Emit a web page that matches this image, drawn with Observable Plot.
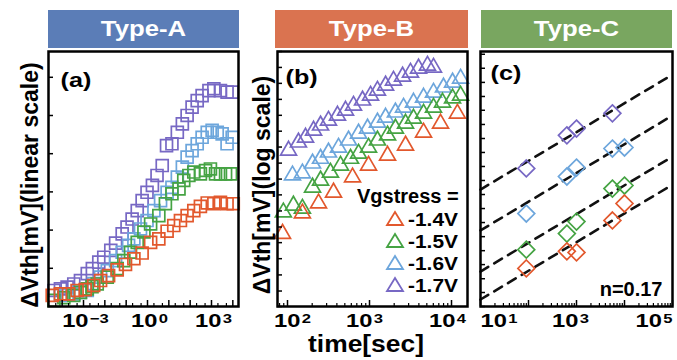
<!DOCTYPE html>
<html>
<head>
<meta charset="utf-8">
<script src="https://cdn.jsdelivr.net/npm/d3@7"></script>
<script src="https://cdn.jsdelivr.net/npm/@observablehq/plot@0.6"></script>
<style>
html,body{margin:0;padding:0;background:#fff;}
#wrap{position:relative;width:677px;height:360px;overflow:hidden;background:#fff;}
#wrap svg{position:absolute;left:0;top:0;}
</style>
</head>
<body>
<div id="wrap"></div>
<script>
const FONT = '"Liberation Sans", Arial, Helvetica, sans-serif';

// ---------- shared categories ----------
const seriesNames = ["-1.4V", "-1.5V", "-1.6V", "-1.7V"];
const seriesColors = ["#e2582d", "#45a343", "#6da6dc", "#7768c4"];
const panelTitles = ["Type-A", "Type-B", "Type-C"];
const panelTitleColors = ["#5b7db7", "#da7350", "#79a660"];
const panelTags = ["(a)", "(b)", "(c)"];
const yTitles = ["ΔVth[mV](linear scale)", "ΔVth[mV](log scale)"];
const xTitle = "time[sec]";
const legendTitle = "Vgstress =";
const fitNote = "n=0.17";

// ---------- Panel A (linear y, log time) ----------
const aT_14 = [3.4e-5, 8.3e-5, 2e-4, 5e-4, 1.2e-3, 3e-3, 6.3e-3, 0.015, 0.038, 0.093, 0.23, 0.56, 1.4, 3.4, 8.3, 17, 35, 72, 148, 302, 631, 1290, 2630, 5370, 10500];
const aV_14 = [0.29, 0.33, 0.33, 0.42, 0.44, 0.55, 0.68, 0.81, 0.96, 1.10, 1.25, 1.40, 1.68, 1.77, 1.97, 2.12, 2.25, 2.38, 2.51, 2.62, 2.71, 2.69, 2.73, 2.69, 2.69];
const aT_15 = [4.1e-5, 1.2e-4, 3.5e-4, 7.2e-4, 1.5e-3, 2.5e-3, 4.4e-3, 0.013, 0.038, 0.078, 0.16, 0.33, 0.68, 1.4, 3.4, 6.9, 14, 30, 50, 87, 148, 302, 525, 891, 1550, 2630, 4570, 7760];
const aV_15 = [0.16, 0.23, 0.29, 0.37, 0.46, 0.52, 0.59, 0.77, 0.99, 1.2, 1.42, 1.68, 1.95, 2.16, 2.38, 2.69, 2.95, 3.08, 3.3, 3.43, 3.52, 3.47, 3.56, 3.6, 3.47, 3.47, 3.47, 3.47];
const aT_16 = [8.3e-5, 1.7e-4, 3.5e-4, 7.2e-4, 1.5e-3, 3e-3, 6.3e-3, 0.013, 0.032, 0.065, 0.13, 0.23, 0.47, 0.95, 2.0, 4.1, 8.3, 14, 25, 43, 72, 123, 214, 363, 631, 1070, 1860, 3160, 5370, 9330];
const aV_16 = [0.29, 0.31, 0.33, 0.37, 0.42, 0.6, 0.77, 0.94, 1.2, 1.42, 1.6, 1.77, 2.03, 2.25, 2.51, 2.77, 2.99, 3.12, 3.39, 3.65, 3.91, 4.08, 4.26, 4.43, 4.56, 4.61, 4.56, 4.52, 4.26, 4.43];
const aT_17 = [4.1e-5, 8.3e-5, 1.7e-4, 3.5e-4, 7.2e-4, 1.5e-3, 2.6e-3, 5.2e-3, 8.9e-3, 0.019, 0.032, 0.065, 0.11, 0.19, 0.33, 0.56, 0.95, 1.7, 2.8, 4.9, 7.8, 14, 25, 43, 72, 123, 214, 363, 759, 1290, 2630, 5370, 9330];
const aV_17 = [0.42, 0.46, 0.51, 0.59, 0.68, 0.86, 0.99, 1.16, 1.29, 1.47, 1.66, 1.90, 2.08, 2.29, 2.51, 2.77, 2.99, 3.17, 3.43, 3.69, 4.21, 4.26, 4.56, 4.78, 5.0, 5.22, 5.39, 5.52, 5.65, 5.70, 5.65, 5.61, 5.61];
const aYTicks = [1, 2, 3, 4, 5, 6];
const aXTicks = [1e-3, 1, 1e3];
const aXLabels = ["10^−3", "10^0", "10^3"];

// ---------- Panel B (log y, log time) ----------
const bT_14 = [87, 152, 239, 364, 621, 973, 1660, 2750, 4560, 7350, 11800];
const bV_14 = [19.3, 23.2, 25.4, 28.0, 32.1, 35.7, 39.1, 42.8, 48.1, 52.2, 57.1];
const bT_15 = [89, 118, 152, 202, 253, 334, 443, 587, 735, 973, 1250, 1660, 2070, 2750, 3440, 4560, 6030, 7770, 10300, 12900];
const bV_15 = [23.4, 24.9, 24.2, 29.3, 31.2, 33.5, 35.7, 38.0, 39.8, 42.0, 44.8, 46.9, 49.9, 52.2, 54.6, 57.1, 60.3, 63.1, 65.5, 67.2];
const bT_16 = [115, 152, 202, 253, 316, 419, 555, 735, 946, 1250, 1570, 2070, 2600, 3440, 4560, 6030, 7980, 10300, 12900];
const bV_16 = [32.7, 33.3, 36.4, 38.0, 40.2, 42.0, 44.8, 47.7, 49.9, 52.7, 55.1, 57.7, 60.3, 63.1, 66.0, 69.0, 72.3, 75.6, 78.3];
const bT_17 = [103, 136, 166, 208, 253, 316, 407, 510, 638, 822, 1030, 1250, 1570, 1960, 2530, 3160, 3960, 5090, 6030];
const bV_17 = [40.9, 44.0, 46.0, 49.0, 51.3, 53.6, 56.1, 58.7, 61.4, 64.3, 67.2, 70.3, 73.6, 76.9, 79.8, 82.7, 85.8, 88.1, 86.5];
const bYTicks = [10, 11.5, 13.3, 15.4, 17.8, 20.5, 23.7, 27.4, 31.6, 36.5, 42.2, 48.7, 56.2, 64.9, 75.0, 86.6, 100];
const bXTicks = [1e2, 1e3, 1e4];
const bXLabels = ["10^2", "10^3", "10^4"];

// ---------- Panel C (log-log, power-law fits) ----------
const cT = [90, 630, 1000, 5600, 10000];
const cV_14 = [1.68, 2.12, 2.09, 3.23, 4.07];
const cV_15 = [2.17, 2.70, 3.18, 4.99, 5.20];
const cV_16 = [3.55, 5.88, 6.64, 8.61, 8.73];
const cV_17 = [6.56, 10.3, 11.3, 13.9];
const cFitT = [10, 1e5];
const cFitStart = [1.10, 1.61, 2.82, 4.92];
const cFitEnd = [5.26, 7.71, 13.5, 23.6];
const cYTicks = [1, 1.21, 1.46, 1.77, 2.14, 2.59, 3.14, 3.80, 4.60, 5.57, 6.74, 8.16, 9.87, 11.95, 14.5, 17.5, 21.2, 25.7, 31.1];
const cXTicks = [10, 1e3, 1e5];
const cXLabels = ["10^1", "10^3", "10^5"];

// ---------- helpers ----------
function decadeMinor(lo, hi, mults) {
  const out = [];
  for (let e = lo; e <= hi; e++) for (const m of mults) out.push(m * 10 ** e);
  return out;
}
function pts(ts, vs) { return ts.map((t, i) => ({t, v: vs[i]})); }
function dots(ts, vs, k, symbol) {
  return Plot.dot(pts(ts, vs), {x: "t", y: "v", symbol, r: 7.6, stroke: seriesColors[k], strokeWidth: 1.7, fill: "none"});
}
function baseStyle() {
  return {background: "transparent", fontFamily: FONT, fontWeight: "bold", color: "#000", overflow: "visible"};
}
function tickMarks(xMajor, xMinor, yTicks) {
  return [
    Plot.axisY(yTicks, {anchor: "left", tickSize: -5, strokeWidth: 1.5, tickFormat: () => "", label: null}),
    Plot.axisX(xMinor, {anchor: "bottom", tickSize: -3, strokeWidth: 1.2, tickFormat: () => "", label: null}),
    Plot.axisX(xMajor, {anchor: "bottom", tickSize: -6, strokeWidth: 1.5, tickFormat: () => "", label: null})
  ];
}
function labelAxis(ticks, labels, idx, opts) {
  return Plot.axisX([ticks[idx]], {anchor: "bottom", tickSize: 0, tickPadding: 8, fontSize: 18,
    tickFormat: () => labels[idx], label: null, ...opts});
}
function tag(txt, dx, dy, size) {
  return Plot.text([txt], {frameAnchor: "top-left", text: d => d, dx, dy, lineAnchor: "bottom", textAnchor: "start", fontSize: size, fontWeight: "bold", fill: "#000"});
}
function supify(svg) {
  const ns = "http://www.w3.org/2000/svg";
  svg.querySelectorAll("text").forEach(t => {
    const s = t.textContent;
    const i = s.indexOf("^");
    if (i < 0) return;
    t.textContent = "";
    const a = document.createElementNS(ns, "tspan"); a.textContent = s.slice(0, i);
    const b = document.createElementNS(ns, "tspan"); b.textContent = s.slice(i + 1);
    b.setAttribute("dy", "-0.36em"); b.setAttribute("font-size", "0.7em"); b.setAttribute("dx", "1");
    t.append(a, b);
  });
}
// widen glyphs horizontally (the reference's lettering is wide), keeping each text's anchor point
function stretch(t, s) {
  const bb = t.getBBox();
  if (!bb.width) return;
  const anchor = getComputedStyle(t).textAnchor;
  const ax = anchor === "middle" ? bb.x + bb.width / 2 : anchor === "end" ? bb.x + bb.width : bb.x;
  t.setAttribute("transform", (t.getAttribute("transform") || "") + ` translate(${ax},0) scale(${s},1) translate(${-ax},0)`);
}

const wrap = document.getElementById("wrap");

// ---------- Panel A ----------
const plotA = Plot.plot({
  width: 677, height: 360, marginLeft: 48, marginRight: 439, marginTop: 51, marginBottom: 54,
  style: baseStyle(),
  x: {type: "log", domain: [10 ** -4.641, 10 ** 4.266], label: null},
  y: {domain: [0, 6.675], label: null},
  marks: [
    dots(aT_17, aV_17, 3, "square2"),
    dots(aT_16, aV_16, 2, "square2"),
    dots(aT_15, aV_15, 1, "square2"),
    dots(aT_14, aV_14, 0, "square2"),
    ...tickMarks(decadeMinor(-4, 4, [1]), decadeMinor(-5, 4, [2, 5]).filter(d => d > 10 ** -4.641 && d < 10 ** 4.266), aYTicks),
    labelAxis(aXTicks, aXLabels, 0, {dx: 2}),
    labelAxis(aXTicks, aXLabels, 1, {dx: 2}),
    labelAxis(aXTicks, aXLabels, 2, {dx: 2}),
    Plot.frame({stroke: "#000", strokeWidth: 2.5}),
    tag(panelTags[0], 12, 35, 21)
  ]
});

// ---------- Panel B ----------
const bDom = [10 ** 1.878, 10 ** 4.195];
const plotB = Plot.plot({
  width: 677, height: 360, marginLeft: 277, marginRight: 210, marginTop: 51, marginBottom: 54,
  style: baseStyle(),
  x: {type: "log", domain: bDom, label: null},
  y: {type: "log", domain: [10, 100], label: null},
  marks: [
    dots(bT_17, bV_17, 3, "triangle2"),
    dots(bT_16, bV_16, 2, "triangle2"),
    dots(bT_15, bV_15, 1, "triangle2"),
    dots(bT_14, bV_14, 0, "triangle2"),
    ...tickMarks(bXTicks, decadeMinor(1, 4, [2, 3, 4, 5, 6, 7, 8, 9]).filter(d => d > bDom[0] && d < bDom[1]), bYTicks),
    labelAxis(bXTicks, bXLabels, 0, {dx: 5}),
    labelAxis(bXTicks, bXLabels, 1, {dx: -5}),
    labelAxis(bXTicks, bXLabels, 2, {dx: -4}),
    Plot.frame({stroke: "#000", strokeWidth: 2.5}),
    tag(panelTags[1], 8, 32, 21)
  ]
});

// ---------- Panel C ----------
const fitLines = cFitStart.flatMap((v0, k) => [
  {k, t: cFitT[0], v: v0},
  {k, t: cFitT[1], v: cFitEnd[k]}
]);
const plotC = Plot.plot({
  width: 677, height: 360, marginLeft: 480, marginRight: 5, marginTop: 51, marginBottom: 54,
  style: baseStyle(),
  x: {type: "log", domain: [10, 1e5], label: null},
  y: {type: "log", domain: [1, 32.3], label: null},
  marks: [
    Plot.line(fitLines, {x: "t", y: "v", z: "k", stroke: "#111", strokeWidth: 2.6, strokeDasharray: "9,7"}),
    dots(cT.slice(0, cV_17.length), cV_17, 3, "diamond2"),
    dots(cT, cV_16, 2, "diamond2"),
    dots(cT, cV_15, 1, "diamond2"),
    dots(cT, cV_14, 0, "diamond2"),
    ...tickMarks(decadeMinor(1, 5, [1]), decadeMinor(1, 4, [2, 3, 4, 5, 6, 7, 8, 9]), cYTicks),
    labelAxis(cXTicks, cXLabels, 0, {dx: 0, textAnchor: "start"}),
    labelAxis(cXTicks, cXLabels, 1, {dx: -6}),
    labelAxis(cXTicks, cXLabels, 2, {dx: 0, textAnchor: "end"}),
    Plot.frame({stroke: "#000", strokeWidth: 2.5}),
    tag(panelTags[2], 10, 28, 21),
    Plot.text([fitNote], {frameAnchor: "bottom-right", text: d => d, dx: -10, dy: -11, lineAnchor: "bottom", textAnchor: "end", fontSize: 20, fontWeight: "bold", fill: "#000"})
  ]
});

for (const p of [plotA, plotB, plotC]) {
  supify(p);
  wrap.appendChild(p);
  p.querySelectorAll("text").forEach(t => {
    const s = t.textContent;
    if (!s || s === fitNote) return;
    stretch(t, panelTags.includes(s) ? 1.2 : 1.32);
  });
}

// ---------- overlay: headers, axis titles, legend ----------
const ov = d3.create("svg").attr("width", 677).attr("height", 360)
  .style("font-family", FONT).style("font-weight", "bold");
const hdrBox = [[48, 239], [275, 468], [481, 672]];
panelTitles.forEach((t, i) => {
  const [x0, x1] = hdrBox[i];
  ov.append("rect").attr("x", x0).attr("y", 10).attr("width", x1 - x0).attr("height", 38).attr("fill", panelTitleColors[i]);
  ov.append("text").attr("transform", `translate(${(x0 + x1) / 2},36) scale(1.17,1)`).attr("text-anchor", "middle")
    .attr("font-size", 22).attr("fill", "#fff").text(t);
});
[[30, 185], [262, 185]].forEach(([cx, cy], i) => {
  ov.append("text").attr("transform", `translate(${cx},${cy}) rotate(-90)`)
    .attr("text-anchor", "middle").attr("dominant-baseline", "central")
    .attr("font-size", 23).attr("fill", "#000").text(yTitles[i]);
});
ov.append("text").attr("transform", "translate(366,352) scale(1.1,1)").attr("text-anchor", "middle")
  .attr("font-size", 24).attr("fill", "#000").text(xTitle);
// legend
ov.append("text").attr("x", 357).attr("y", 203).attr("font-size", 20).attr("fill", "#000").text(legendTitle);
seriesNames.forEach((name, i) => {
  const cy = 219 + i * 22;
  ov.append("path").attr("d", `M${395},${cy - 7}L${403},${cy + 6}L${387},${cy + 6}Z`)
    .attr("fill", "none").attr("stroke", seriesColors[i]).attr("stroke-width", 1.8);
  ov.append("text").attr("transform", `translate(408,${cy + 7}) scale(1.1,1)`).attr("font-size", 19).attr("fill", "#000").text(name);
});
wrap.appendChild(ov.node());
</script>
</body>
</html>
